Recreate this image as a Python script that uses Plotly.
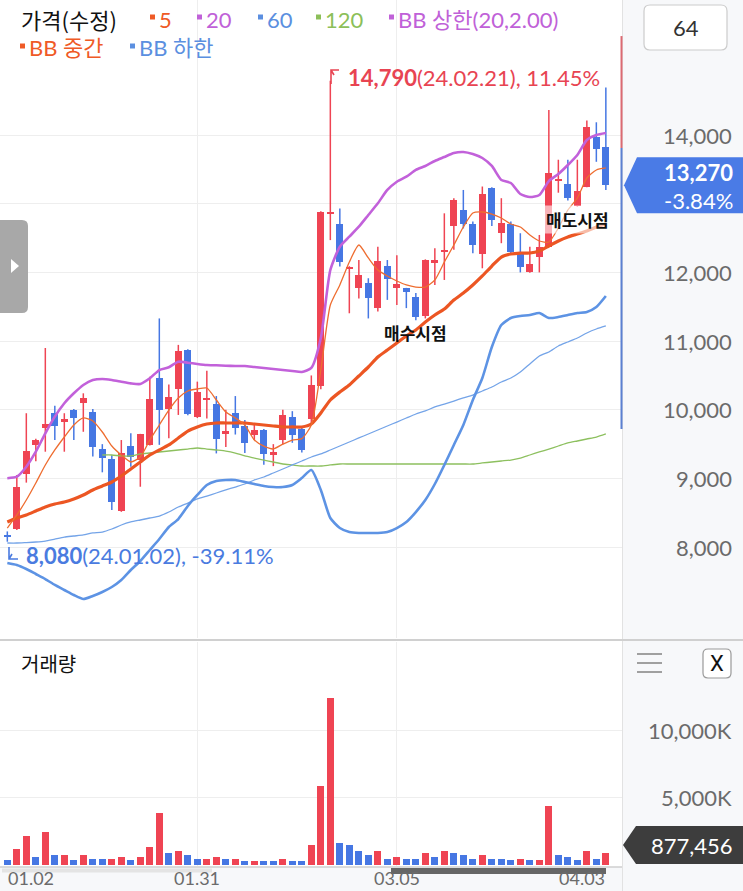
import plotly.graph_objects as go

W, H = 743, 891

# ---------------- data ----------------
opens  = [8180, 8260, 9070, 9490, 9730, 9960, 9825, 10000, 10095, 9970,
          9430, 9285, 8520, 9475, 9270, 9490, 10460, 10005, 10305, 10870,
          9890, 10145, 10085, 9660, 9955, 9770, 9640, 9700, 9340, 9560,
          9900, 9720, 9860, 10350, 12850, 12705, 12045, 11770, 11840, 11480,
          12100, 11770, 11770, 11635, 11360, 12150, 12300, 12680, 12910, 12705,
          12270, 13235, 12580, 12705, 12300, 12000, 12230, 12375, 13340, 13290,
          12970, 13250, 13975, 13820]
highs  = [8230, 9050, 9950, 9580, 10900, 10060, 9950, 10010, 10240, 10010,
          9500, 9340, 9560, 9660, 9650, 10480, 11330, 10370, 10945, 10880,
          10410, 10570, 10200, 10000, 10200, 9850, 9780, 9720, 9500, 10000,
          9980, 9760, 10500, 12890, 14790, 12930, 12090, 12180, 11915, 12375,
          12180, 12250, 11775, 11700, 12190, 12350, 12860, 13080, 13200, 12740,
          13250, 13240, 13080, 12740, 12570, 12375, 12545, 14365, 13640, 13640,
          13640, 14210, 14185, 14690]
lows   = [8080, 8250, 8940, 9250, 9390, 9560, 9390, 9560, 9680, 9320,
          9090, 8540, 8515, 9170, 8880, 9480, 9490, 9585, 9925, 9920,
          9880, 9875, 9365, 9460, 9640, 9370, 9560, 9200, 9180, 9500,
          9520, 9380, 9800, 10300, 12470, 12085, 11405, 11620, 11330, 11430,
          11600, 11525, 11480, 11305, 11330, 11815, 11890, 12330, 12640, 12280,
          12060, 12675, 12425, 12280, 12000, 11995, 12000, 12370, 13160, 13045,
          12955, 13240, 13610, 13200]
closes = [8150, 8880, 9400, 9560, 9800, 9760, 9860, 9880, 10170, 9465,
          9295, 8660, 9375, 9310, 9645, 10150, 9990, 10180, 10860, 9935,
          10265, 10170, 9570, 9675, 9735, 9515, 9700, 9350, 9380, 9920,
          9640, 9420, 10360, 12880, 12880, 12150, 12085, 11960, 11625, 12165,
          11900, 11830, 11710, 11355, 12180, 12170, 12320, 13055, 12705, 12400,
          13135, 12765, 12715, 12300, 12075, 12120, 12365, 13450, 13360, 13080,
          13190, 14110, 13800, 13270]

volume_k = [300, 1145, 2140, 570, 2440, 720, 720, 300, 720, 420,
            420, 420, 570, 300, 570, 1270, 3860, 870, 1000, 720,
            420, 420, 570, 420, 420, 270, 270, 270, 270, 420,
            270, 270, 1420, 5830, 12400, 1570, 1420, 1000, 700, 1000,
            420, 570, 420, 420, 870, 570, 1000, 870, 720, 420,
            720, 420, 420, 300, 420, 300, 300, 4400, 720, 570,
            300, 1000, 420, 877.456]
vol_up = [0, 1, 1, 0, 1, 0, 1, 0, 1, 0,
          0, 1, 1, 0, 1, 1, 1, 0, 1, 0,
          0, 1, 1, 0, 1, 0, 1, 0, 0, 1,
          0, 0, 1, 1, 1, 0, 0, 0, 0, 1,
          0, 1, 0, 0, 1, 0, 1, 0, 0, 0,
          1, 0, 0, 0, 1, 0, 1, 1, 0, 0,
          0, 1, 0, 1]

ma5 = [8279, 8469, 8687, 8935, 9197, 9415, 9604, 9779, 9881, 9837,
       9677, 9473, 9342, 9240, 9313, 9560, 9779, 9997, 10172, 10274,
       10303, 10317, 10143, 9968, 9881, 9779, 9560, 9470, 9430, 9500,
       9560, 9580, 9779, 10579, 11525, 11817, 12151, 12399, 12210, 12035,
       11948, 11875, 11817, 11787, 11787, 11889, 12151, 12399, 12661, 12865,
       12879, 12850, 12792, 12705, 12661, 12544, 12457, 12442, 12646, 12908,
       13083, 13374, 13491, 13520]
bb_upper = [9003, 9026, 9172, 9390, 9658, 9900, 10095, 10240, 10361, 10434,
            10449, 10434, 10409, 10385, 10376, 10459, 10579, 10619, 10700, 10686,
            10667, 10652, 10648, 10642, 10638, 10638, 10623, 10609, 10594, 10579,
            10565, 10550, 10609, 11045, 12035, 12374, 12520, 12665, 12836, 13006,
            13200, 13320, 13393, 13491, 13549, 13622, 13680, 13738, 13753, 13723,
            13665, 13549, 13345, 13301, 13141, 13098, 13127, 13330, 13432, 13563,
            13709, 13927, 14000, 14029]
bb_mid = [8367, 8425, 8469, 8527, 8585, 8629, 8658, 8702, 8760, 8833,
          8891, 8949, 9036, 9138, 9240, 9342, 9415, 9488, 9590, 9691,
          9750, 9793, 9808, 9808, 9808, 9808, 9793, 9779, 9764, 9750,
          9750, 9750, 9793, 9953, 10143, 10259, 10361, 10492, 10623, 10769,
          10870, 10972, 11074, 11162, 11278, 11380, 11467, 11598, 11700, 11817,
          11948, 12093, 12224, 12268, 12282, 12282, 12312, 12384, 12457, 12515,
          12559, 12603, 12661, 12705]
bb_lower = [7770, 7741, 7683, 7610, 7537, 7450, 7377, 7304, 7246, 7290,
            7348, 7421, 7523, 7668, 7799, 7959, 8119, 8294, 8410, 8600,
            8760, 8905, 8964, 8978, 8978, 8949, 8920, 8891, 8876, 8876,
            8905, 9007, 9124, 8833, 8425, 8279, 8221, 8207, 8207, 8207,
            8221, 8279, 8367, 8512, 8687, 8920, 9197, 9488, 9779, 10143,
            10463, 10914, 11234, 11336, 11365, 11380, 11409, 11336, 11351, 11380,
            11409, 11424, 11496, 11656]
ma60 = [8061, 8061, 8068, 8076, 8090, 8119, 8148, 8163, 8178, 8207,
        8221, 8265, 8323, 8367, 8396, 8425, 8454, 8512, 8585, 8643,
        8702, 8745, 8789, 8833, 8876, 8920, 8978, 9022, 9080, 9138,
        9197, 9255, 9313, 9357, 9415, 9473, 9531, 9590, 9648, 9706,
        9764, 9822, 9881, 9939, 9983, 10041, 10084, 10128, 10172, 10215,
        10274, 10332, 10405, 10463, 10550, 10667, 10783, 10841, 10929, 10987,
        11045, 11118, 11176, 11220]
ma120 = [None] * 10 + [
        9342, 9342, 9328, 9328, 9357, 9371, 9386, 9400, 9415, 9429,
        9444, 9429, 9415, 9400, 9371, 9328, 9298, 9269, 9240, 9211,
        9197, 9182, 9182, 9182, 9197, 9211, 9211, 9211, 9211, 9211,
        9211, 9211, 9211, 9211, 9211, 9211, 9211, 9211, 9211, 9211,
        9226, 9240, 9255, 9269, 9298, 9342, 9386, 9429, 9473, 9517,
        9546, 9575, 9604, 9648]

price_ticks = [8000, 9000, 10000, 11000, 12000, 14000]
price_grid = [8000, 9000, 10000, 11000, 12000, 13000, 14000]
vol_ticks = [5_000_000, 10_000_000]
vol_tick_text = ["5,000K", "10,000K"]
date_idx = [0, 20, 41, 63]
date_grid_idx = [20, 41]
date_labels = ["01.02", "01.31", "03.05", "04.03"]

last_close = 13270
last_change = "-3.84%"
last_volume = "877,456"
hi_text = ("14,790", "(24.02.21), 11.45%")
lo_text = ("8,080", "(24.01.02), -39.11%")
visible_count = "64"
buy_idx, sell_idx = 43, 60

# ---------------- styling ----------------
RED = "#ef4453"
BLUE = "#4677e3"
FONT = "Lato, 'Noto Sans CJK KR', sans-serif"
KFONT = "'Noto Sans CJK KR', Lato, sans-serif"

def fx(px):
    return px / W

def fy(py):
    return 1 - py / H

PLOT_R = 622
x_range = [-0.77, 64.7]
price_top, price_bot = 0, 638
vol_top, vol_bot = 642, 866

n = len(closes)
idx = list(range(n))
volume = [v * 1000 for v in volume_k]

fig = go.Figure()

# candles: wicks (scatter segments) + bodies (bars with base)
MIN_BODY = 25
for is_up, col in ((True, RED), (False, BLUE)):
    sel = [i for i in idx if (closes[i] >= opens[i]) == is_up]
    wx, wy = [], []
    for i in sel:
        wx += [i, i, None]
        wy += [lows[i], highs[i], None]
    fig.add_trace(go.Scatter(x=wx, y=wy, mode="lines", line=dict(color=col, width=1.5),
                             showlegend=False, hoverinfo="skip", xaxis="x", yaxis="y"))
    fig.add_trace(go.Bar(x=sel,
                         base=[min(opens[i], closes[i]) for i in sel],
                         y=[max(abs(closes[i] - opens[i]), MIN_BODY) for i in sel],
                         width=0.72, marker=dict(color=col, line=dict(width=0)),
                         showlegend=False, hoverinfo="skip", xaxis="x", yaxis="y"))

line_specs = [
    (ma120, "#8dc05f", 1.3),
    (ma60, "#74a4e8", 1.3),
    (bb_lower, "#5d93e4", 2.6),
    (bb_upper, "#c261da", 2.6),
    (bb_mid, "#ec5623", 3.2),
    (ma5, "#ee6d30", 1.3),
]
for ys, col, wd in line_specs:
    fig.add_trace(go.Scatter(x=idx, y=ys, mode="lines",
                             line=dict(color=col, width=wd, shape="spline", smoothing=0.6),
                             showlegend=False, hoverinfo="skip",
                             xaxis="x", yaxis="y"))

fig.add_trace(go.Bar(x=idx, y=volume, width=0.74,
                     marker=dict(color=[RED if u else BLUE for u in vol_up], line=dict(width=0)),
                     showlegend=False, hoverinfo="skip", xaxis="x2", yaxis="y2"))

# y ranges derived from pixel layout: 14,000 at y=135, 68.7 px per 1,000
ppk = 68.7 / 1000
y_top = 14000 + (135 - price_top) / ppk
y_bot = 14000 - (price_bot - 135) / ppk
vpp = 5_000_000 / 67.0
v_top = (864.5 - vol_top) * vpp
v_bot = -(vol_bot - 864.5) * vpp

grid = "#eeeeee"
fig.update_layout(
    width=W, height=H, margin=dict(l=0, r=0, t=0, b=0),
    paper_bgcolor="white", plot_bgcolor="white",
    font=dict(family=FONT, size=20, color="#666"),
    barmode="overlay", bargap=0,
    xaxis=dict(domain=[0, fx(PLOT_R)], range=x_range, anchor="y",
               tickvals=date_grid_idx, showticklabels=False, showgrid=True,
               gridcolor=grid, zeroline=False, showline=False, fixedrange=True),
    yaxis=dict(domain=[fy(price_bot), fy(price_top)], range=[y_bot, y_top], anchor="x",
               tickvals=price_grid, showticklabels=False, showgrid=True,
               gridcolor=grid, zeroline=False, showline=False, fixedrange=True),
    xaxis2=dict(domain=[0, fx(PLOT_R)], range=x_range, anchor="y2",
                tickvals=date_grid_idx, showticklabels=False, showgrid=True,
                gridcolor=grid, zeroline=False, showline=False, fixedrange=True),
    yaxis2=dict(domain=[fy(vol_bot), fy(vol_top)], range=[v_bot, v_top], anchor="x2",
                tickvals=vol_ticks, showticklabels=False, showgrid=True,
                gridcolor=grid, zeroline=False, showline=False, fixedrange=True),
)

shapes = []
ann = []

# right axis panel and frame
shapes.append(dict(type="rect", xref="paper", yref="paper", x0=fx(PLOT_R), x1=1, y0=0, y1=1,
                   fillcolor="#f7f8fa", line=dict(width=0), layer="below"))
shapes.append(dict(type="rect", xref="paper", yref="paper", x0=0, x1=1, y0=0, y1=fy(867),
                   fillcolor="#f7f8fa", line=dict(width=0), layer="below"))
shapes.append(dict(type="line", xref="paper", yref="paper", x0=fx(PLOT_R + 0.5), x1=fx(PLOT_R + 0.5),
                   y0=0, y1=1, line=dict(color="#e2e2e2", width=1)))
shapes.append(dict(type="line", xref="paper", yref="paper", x0=0, x1=1, y0=fy(640), y1=fy(640),
                   line=dict(color="#d0d0d0", width=2)))
shapes.append(dict(type="line", xref="paper", yref="paper", x0=0, x1=fx(PLOT_R), y0=fy(867), y1=fy(867),
                   line=dict(color="#cfcfcf", width=1.5)))
# scrollbars
shapes.append(dict(type="line", xref="paper", yref="paper", x0=fx(2), x1=fx(212), y0=fy(870.5), y1=fy(870.5),
                   line=dict(color="#e4e4e4", width=4)))
shapes.append(dict(type="line", xref="paper", yref="paper", x0=fx(391), x1=fx(606), y0=fy(871), y1=fy(871),
                   line=dict(color="#666666", width=6)))

# visible-range bar at plot edge
shapes.append(dict(type="line", xref="paper", yref="y", x0=fx(621.5), x1=fx(621.5), y0=15440, y1=13810,
                   line=dict(color="#dc6a72", width=2)))
shapes.append(dict(type="line", xref="paper", yref="y", x0=fx(621.5), x1=fx(621.5), y0=13810, y1=9720,
                   line=dict(color="#5b80d2", width=2)))

# price tick labels
for v in price_ticks:
    ann.append(dict(xref="paper", yref="y", x=fx(734), y=v, text=f"{v:,}", showarrow=False,
                    xanchor="right", yanchor="middle", font=dict(family=FONT, size=22, color="#6b6b6b")))
for v, t in zip(vol_ticks, vol_tick_text):
    ann.append(dict(xref="paper", yref="y2", x=fx(734), y=v, text=t, showarrow=False,
                    xanchor="right", yanchor="middle", font=dict(family=FONT, size=22, color="#6b6b6b")))

# date labels (clamped inside the plot)
for i, (d, t) in enumerate(zip(date_idx, date_labels)):
    anchor = "left" if i == 0 else ("right" if i == len(date_idx) - 1 else "center")
    ann.append(dict(xref="x2", yref="paper", x=d, y=fy(890), text=t, showarrow=False,
                    xanchor=anchor, yanchor="bottom", borderpad=0,
                    font=dict(family=FONT, size=18, color="#6b6b6b")))

# current price tag
tag_y = 135 + (14000 - last_close) * ppk
shapes.append(dict(type="path", xref="paper", yref="paper",
                   path=f"M {fx(624)},{fy(tag_y)} L {fx(637)},{fy(tag_y-28)} L 1,{fy(tag_y-28)} "
                        f"L 1,{fy(tag_y+28)} L {fx(637)},{fy(tag_y+28)} Z",
                   fillcolor="#4a7be6", line=dict(width=0)))
ann.append(dict(xref="paper", yref="paper", x=fx(735), y=fy(tag_y - 13), text=f"<b>{last_close:,}</b>",
                showarrow=False, xanchor="right", yanchor="middle", font=dict(family=FONT, size=22, color="white")))
ann.append(dict(xref="paper", yref="paper", x=fx(735), y=fy(tag_y + 15), text=last_change,
                showarrow=False, xanchor="right", yanchor="middle", font=dict(family=FONT, size=22, color="white")))

# volume tag
shapes.append(dict(type="path", xref="paper", yref="paper",
                   path=f"M {fx(623)},{fy(845)} L {fx(636)},{fy(826)} L 1,{fy(826)} L 1,{fy(864)} "
                        f"L {fx(636)},{fy(864)} Z",
                   fillcolor="#3d3d3d", line=dict(width=0)))
ann.append(dict(xref="paper", yref="paper", x=fx(735), y=fy(845), text=last_volume, showarrow=False,
                xanchor="right", yanchor="middle", font=dict(family=FONT, size=22, color="white")))

def rrect(x0, y0, x1, y1, r):
    return (f"M {fx(x0+r)},{fy(y0)} L {fx(x1-r)},{fy(y0)} Q {fx(x1)},{fy(y0)} {fx(x1)},{fy(y0+r)} "
            f"L {fx(x1)},{fy(y1-r)} Q {fx(x1)},{fy(y1)} {fx(x1-r)},{fy(y1)} "
            f"L {fx(x0+r)},{fy(y1)} Q {fx(x0)},{fy(y1)} {fx(x0)},{fy(y1-r)} "
            f"L {fx(x0)},{fy(y0+r)} Q {fx(x0)},{fy(y0)} {fx(x0+r)},{fy(y0)} Z")

# "64" box
shapes.append(dict(type="path", xref="paper", yref="paper", path=rrect(644, 5, 727, 50, 6),
                   fillcolor="white", line=dict(color="#cccccc", width=1.2)))
ann.append(dict(xref="paper", yref="paper", x=fx(685.5), y=fy(27.5), text=visible_count, showarrow=False,
                xanchor="center", yanchor="middle", font=dict(family=FONT, size=22, color="#333")))

# left tab
shapes.append(dict(type="path", xref="paper", yref="paper", path=rrect(-8, 220, 28, 313, 6),
                   fillcolor="#a8a8a8", line=dict(width=0)))
shapes.append(dict(type="path", xref="paper", yref="paper",
                   path=f"M {fx(11)},{fy(259)} L {fx(19)},{fy(266)} L {fx(11)},{fy(273)} Z",
                   fillcolor="white", line=dict(width=0)))

# volume panel icons
for yy in (654, 663, 672):
    shapes.append(dict(type="line", xref="paper", yref="paper", x0=fx(637), x1=fx(662), y0=fy(yy), y1=fy(yy),
                       line=dict(color="#a0a0a0", width=2)))
shapes.append(dict(type="path", xref="paper", yref="paper", path=rrect(703, 649, 731, 678, 5),
                   fillcolor="white", line=dict(color="#999999", width=1.2)))
ann.append(dict(xref="paper", yref="paper", x=fx(717), y=fy(663.5), text="X", showarrow=False,
                xanchor="center", yanchor="middle", font=dict(family="Roboto, sans-serif", size=22, color="#111")))

# panel titles / legend
ann.append(dict(xref="paper", yref="paper", x=fx(19), y=fy(663), text="거래량", showarrow=False,
                xanchor="left", yanchor="middle", font=dict(family=KFONT, size=20, color="#111")))
ann.append(dict(xref="paper", yref="paper", x=fx(19), y=fy(19), text="가격(수정)", showarrow=False,
                xanchor="left", yanchor="middle", font=dict(family=KFONT, size=22, color="#111")))
legend_items = [
    (150, 19, "5", "#ef5a26"),
    (197, 19, "20", "#c061d8"),
    (258, 19, "60", "#5b8fe0"),
    (316, 19, "120", "#8cbf59"),
    (389, 19, "BB 상한(20,2.00)", "#c061d8"),
    (20, 48, "BB 중간", "#ef5a26"),
    (130, 48, "BB 하한", "#5b8fe0"),
]
for sx, sy, txt, col in legend_items:
    shapes.append(dict(type="rect", xref="paper", yref="paper", x0=fx(sx), x1=fx(sx + 5),
                       y0=fy(sy - 4.5), y1=fy(sy + 0.5), fillcolor=col, line=dict(width=0)))
    ann.append(dict(xref="paper", yref="paper", x=fx(sx + 7), y=fy(sy), text=txt, showarrow=False,
                    xanchor="left", yanchor="middle", font=dict(family=FONT, size=22, color=col)))

# high / low markers
hi_i = highs.index(max(highs))
lo_i = lows.index(min(lows))
shapes.append(dict(type="path", xref="paper", yref="paper",
                   path=f"M {fx(331)},{fy(84)} L {fx(331)},{fy(70)} L {fx(339)},{fy(70)} M {fx(331)},{fy(70)} L {fx(334)},{fy(75)}",
                   line=dict(color="#e84452", width=1.6)))
ann.append(dict(xref="x", yref="y", x=hi_i, y=max(highs), xshift=16, yshift=3,
                text=f"<b>{hi_text[0]}</b>{hi_text[1]}", showarrow=False, xanchor="left", yanchor="middle",
                font=dict(family=FONT, size=22, color="#e84452")))
shapes.append(dict(type="path", xref="paper", yref="paper",
                   path=f"M {fx(9)},{fy(547)} L {fx(9)},{fy(559)} L {fx(18)},{fy(559)} M {fx(9)},{fy(559)} L {fx(12)},{fy(554)}",
                   line=dict(color="#4a7be0", width=1.6)))
ann.append(dict(xref="x", yref="y", x=lo_i, y=min(lows), xshift=17, yshift=-14,
                text=f"<b>{lo_text[0]}</b>{lo_text[1]}", showarrow=False, xanchor="left", yanchor="middle",
                font=dict(family=FONT, size=22, color="#4a7be0")))

# signal labels
ann.append(dict(xref="x", yref="y", x=buy_idx, y=11118, text="<b>매수시점</b>", showarrow=False,
                xanchor="center", yanchor="middle", font=dict(family=KFONT, size=17, color="#111")))
ann.append(dict(xref="x", yref="y", x=sell_idx, y=12763, text="<b>매도시점</b>", showarrow=False,
                xanchor="center", yanchor="middle", bgcolor="rgba(255,255,255,0.6)",
                font=dict(family=KFONT, size=17, color="#111")))

fig.update_layout(shapes=shapes, annotations=ann)
fig.write_html("out.html")
